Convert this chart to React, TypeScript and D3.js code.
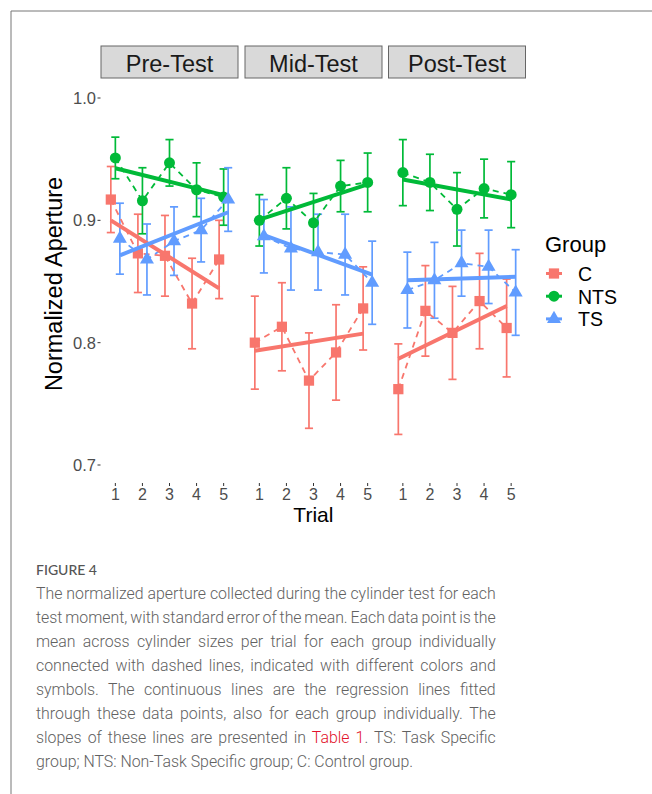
import React, { useEffect, useRef } from "react";
import * as d3 from "d3";

const trials = [1, 2, 3, 4, 5];
const phases = ["Pre-Test", "Mid-Test", "Post-Test"];
const groups = ["C", "NTS", "TS"];
const groupColors = ["#F8766D", "#00BA38", "#619CFF"];
const yTicks = [0.7, 0.8, 0.9, 1.0];

// mean normalized aperture per trial
const meanC_Pre = [0.917, 0.873, 0.871, 0.832, 0.868];
const meanC_Mid = [0.8, 0.813, 0.769, 0.792, 0.828];
const meanC_Post = [0.762, 0.826, 0.808, 0.834, 0.812];
const meanNTS_Pre = [0.951, 0.916, 0.947, 0.925, 0.919];
const meanNTS_Mid = [0.9, 0.918, 0.898, 0.928, 0.931];
const meanNTS_Post = [0.939, 0.931, 0.909, 0.926, 0.921];
const meanTS_Pre = [0.885, 0.868, 0.883, 0.892, 0.917];
const meanTS_Mid = [0.887, 0.877, 0.874, 0.872, 0.849];
const meanTS_Post = [0.843, 0.851, 0.865, 0.862, 0.841];

// standard error of the mean
const seC_Pre = [0.027, 0.032, 0.033, 0.037, 0.032];
const seC_Mid = [0.038, 0.036, 0.039, 0.039, 0.034];
const seC_Post = [0.037, 0.037, 0.038, 0.039, 0.04];
const seNTS_Pre = [0.017, 0.027, 0.019, 0.022, 0.023];
const seNTS_Mid = [0.021, 0.025, 0.024, 0.021, 0.024];
const seNTS_Post = [0.027, 0.023, 0.03, 0.024, 0.027];
const seTS_Pre = [0.029, 0.029, 0.028, 0.026, 0.026];
const seTS_Mid = [0.03, 0.034, 0.031, 0.033, 0.034];
const seTS_Post = [0.031, 0.031, 0.027, 0.03, 0.035];

const captionLines = [
  "The normalized aperture collected during the cylinder test for each",
  "test moment, with standard error of the mean. Each data point is the",
  "mean across cylinder sizes per trial for each group individually",
  "connected with dashed lines, indicated with different colors and",
  "symbols. The continuous lines are the regression lines fitted",
  "through these data points, also for each group individually. The",
  "slopes of these lines are presented in |Table 1|. TS: Task Specific",
  "group; NTS: Non-Task Specific group; C: Control group.",
];

// [phase][group]
const means = [
  [meanC_Pre, meanNTS_Pre, meanTS_Pre],
  [meanC_Mid, meanNTS_Mid, meanTS_Mid],
  [meanC_Post, meanNTS_Post, meanTS_Post],
];
const ses = [
  [seC_Pre, seNTS_Pre, seTS_Pre],
  [seC_Mid, seNTS_Mid, seTS_Mid],
  [seC_Post, seNTS_Post, seTS_Post],
];

const symbolTypes = [d3.symbolSquare, d3.symbolCircle, d3.symbolTriangle];
const symbolSizes = [105, 95, 85];
const dodge = [-0.167, 0, 0.167];

// simple least squares fit
function fitLine(xs: number[], ys: number[]) {
  const mx = d3.mean(xs) as number;
  const my = d3.mean(ys) as number;
  let num = 0;
  let den = 0;
  xs.forEach((x, i) => {
    num += (x - mx) * (ys[i] - my);
    den += (x - mx) * (x - mx);
  });
  const b = num / den;
  return (x: number) => my + b * (x - mx);
}

const font = "'Liberation Sans', Arial, sans-serif";

export default function App() {
  const captionRef = useRef<SVGGElement>(null);

  const panelLefts = [101, 245, 388.5];
  const panelWidth = 137;
  const y = d3.scaleLinear().domain([0.7, 1.0]).range([465, 98]);

  useEffect(() => {
    // fit first caption line to the column, then justify the rest (not the last)
    const target = 459.7;
    const nodes = d3
      .select(captionRef.current)
      .selectAll<SVGTextElement, unknown>("text.cap")
      .nodes();
    nodes.forEach((el) => {
      el.setAttribute("word-spacing", "0");
      el.setAttribute("font-size", "17");
    });
    const first = nodes[0].getComputedTextLength();
    const size = (17 * target) / first;
    nodes.forEach((el, i) => {
      el.setAttribute("font-size", String(size));
      if (i === nodes.length - 1) return;
      const len = el.getComputedTextLength();
      const spaces = (el.textContent || "").split(" ").length - 1;
      el.setAttribute("word-spacing", String((target - len) / spaces));
    });
  }, []);

  return (
    <svg
      width={652}
      height={794}
      style={{ position: "absolute", left: 0, top: 0, background: "#fff" }}
    >
      <line x1={11} y1={11} x2={11} y2={794} stroke="#777" strokeWidth={1} />
      <line x1={11} y1={11} x2={652} y2={11} stroke="#777" strokeWidth={1} />

      {/* y axis */}
      <g fontFamily={font} fontSize={16.5} fill="#4d4d4d">
        {yTicks.map((t) => (
          <g key={t}>
            <text x={96} y={y(t) + 6} textAnchor="end">
              {t.toFixed(1)}
            </text>
            <line x1={97.5} x2={100.5} y1={y(t)} y2={y(t)} stroke="#333" strokeWidth={1} />
          </g>
        ))}
      </g>
      <text
        transform={`translate(62,284) rotate(-90)`}
        textAnchor="middle"
        fontFamily={font}
        fontSize={23.5}
        fill="#000"
      >
        Normalized Aperture
      </text>

      {phases.map((phase, p) => {
        const left = panelLefts[p];
        const x = d3.scaleLinear().domain([0.47, 5.53]).range([left, left + panelWidth]);
        return (
          <g key={phase}>
            <rect x={left} y={46} width={panelWidth} height={32} fill="#d9d9d9" stroke="#666" strokeWidth={1} />
            <text x={left + panelWidth / 2} y={71.5} textAnchor="middle" fontFamily={font} fontSize={23.5} fill="#1a1a1a">
              {phase}
            </text>

            {/* x ticks */}
            {trials.map((t) => (
              <g key={t}>
                <line x1={x(t)} x2={x(t)} y1={483} y2={486} stroke="#333" strokeWidth={1} />
                <text x={x(t)} y={499.5} textAnchor="middle" fontFamily={font} fontSize={16} fill="#4d4d4d">
                  {t}
                </text>
              </g>
            ))}

            {/* error bars */}
            {groups.map((g, gi) =>
              trials.map((t, i) => {
                const cx = x(t + dodge[gi]);
                const m = means[p][gi][i];
                const s = ses[p][gi][i];
                const hw = x(0.15) - x(0);
                return (
                  <g key={g + t} stroke={groupColors[gi]} strokeWidth={1.7}>
                    <line x1={cx} x2={cx} y1={y(m + s)} y2={y(m - s)} />
                    <line x1={cx - hw} x2={cx + hw} y1={y(m + s)} y2={y(m + s)} />
                    <line x1={cx - hw} x2={cx + hw} y1={y(m - s)} y2={y(m - s)} />
                  </g>
                );
              })
            )}

            {/* dashed connections */}
            {groups.map((g, gi) => {
              const path = d3
                .line<number>()
                .x((_, i) => x(trials[i] + dodge[gi]))
                .y((d) => y(d))(means[p][gi]);
              return (
                <path key={g} d={path || ""} fill="none" stroke={groupColors[gi]} strokeWidth={1.8} strokeDasharray="6,5" />
              );
            })}

            {/* points */}
            {groups.map((g, gi) =>
              trials.map((t, i) => (
                <path
                  key={g + t}
                  transform={`translate(${x(t + dodge[gi])},${y(means[p][gi][i])})`}
                  d={d3.symbol(symbolTypes[gi], symbolSizes[gi])() || ""}
                  fill={groupColors[gi]}
                />
              ))
            )}

            {/* regression lines */}
            {groups.map((g, gi) => {
              const xs = trials.map((t) => t + dodge[gi]);
              const f = fitLine(xs, means[p][gi]);
              const x0 = xs[0];
              const x1 = xs[xs.length - 1];
              return (
                <line
                  key={g}
                  x1={x(x0)}
                  x2={x(x1)}
                  y1={y(f(x0))}
                  y2={y(f(x1))}
                  stroke={groupColors[gi]}
                  strokeWidth={4}
                />
              );
            })}
          </g>
        );
      })}

      <text x={313.4} y={522} textAnchor="middle" fontFamily={font} fontSize={21} fill="#000">
        Trial
      </text>

      {/* legend */}
      <g fontFamily={font}>
        <text x={545} y={251.5} fontSize={22} fill="#000">
          Group
        </text>
        {groups.map((g, gi) => {
          const cy = 273.5 + gi * 22.7;
          return (
            <g key={g}>
              <line x1={546} x2={562} y1={cy} y2={cy} stroke={groupColors[gi]} strokeWidth={3} />
              <path
                transform={`translate(554,${cy})`}
                d={d3.symbol(symbolTypes[gi], symbolSizes[gi])() || ""}
                fill={groupColors[gi]}
              />
              <text x={578} y={cy + 7.5} fontSize={19.5} fill="#000">
                {g}
              </text>
            </g>
          );
        })}
      </g>

      {/* caption */}
      <g ref={captionRef} fontFamily="Roboto, Lato, sans-serif">
        <text x={36} y={575} fontSize={14} fontWeight={500} fill="#555" fontFamily="Lato, sans-serif">
          FIGURE 4
        </text>
        {captionLines.map((line, li) => {
          const parts = line.split("|");
          return (
            <text key={li} className="cap" x={36} y={599.3 + li * 24} fontSize={17} fontWeight={300} fill="#616161">
              {parts.map((part, pi) => (
                <tspan key={pi} fill={pi === 1 ? "#e2112a" : undefined}>
                  {part}
                </tspan>
              ))}
            </text>
          );
        })}
      </g>
    </svg>
  );
}
